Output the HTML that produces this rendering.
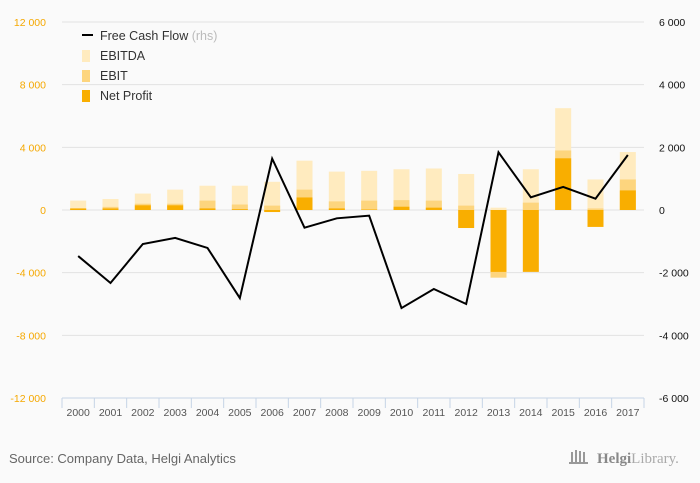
<!DOCTYPE html>
<html><head><meta charset="utf-8">
<style>
html,body{margin:0;padding:0;background:#fafafa;}
svg{display:block;font-family:"Liberation Sans",sans-serif;}
</style></head>
<body>
<svg id="chart" width="700" height="483" viewBox="0 0 700 483">
<rect width="700" height="483" fill="#fafafa"/>
<g id="grid"></g>
<g id="bars"></g>
<g id="line"></g>
<g id="axes"></g>
<g>
  <line x1="82" y1="35" x2="93" y2="35" stroke="#000" stroke-width="2"/>
  <text x="100" y="40" font-size="12.5" fill="#333">Free Cash Flow <tspan fill="#bbb">(rhs)</tspan></text>
  <rect x="82" y="50" width="8" height="12" fill="#ffebbf"/>
  <text x="100" y="60" font-size="12.5" fill="#333">EBITDA</text>
  <rect x="82" y="70" width="8" height="12" fill="#fdd57e"/>
  <text x="100" y="80" font-size="12.5" fill="#333">EBIT</text>
  <rect x="82" y="90" width="8" height="12" fill="#f9ae00"/>
  <text x="100" y="100" font-size="12.5" fill="#333">Net Profit</text>
</g>
<text x="9" y="463" font-size="13" fill="#666">Source: Company Data, Helgi Analytics</text>
<g>
  <g fill="#999"><rect x="571" y="452" width="2" height="10"/><rect x="575" y="450" width="2" height="12"/><rect x="579" y="451" width="2" height="11"/><rect x="583" y="452" width="2" height="10"/><rect x="569" y="462" width="19" height="2"/></g>
  <text x="597" y="463" font-size="15" fill="#888" font-family="Liberation Serif,serif"><tspan font-weight="bold">Helgi</tspan><tspan fill="#aaa">Library.</tspan></text>
</g>
</svg>
<script>
const years=["2000","2001","2002","2003","2004","2005","2006","2007","2008","2009","2010","2011","2012","2013","2014","2015","2016","2017"];
const ebitda=[600,700,1050,1300,1550,1550,1800,3150,2450,2500,2600,2650,2300,150,2600,6500,1950,3700];
const ebit=[100,200,400,400,600,350,280,1300,550,600,630,600,280,-4320,470,3800,100,1950];
const netProfit=[100,100,300,300,100,50,-130,800,100,30,210,150,-1150,-3950,-3950,3300,-1080,1250];
const fcf=[-1470,-2330,-1085,-890,-1210,-2810,1640,-565,-265,-180,-3130,-2520,-3000,1840,405,735,360,1755];
const leftTicks=[12000,8000,4000,0,-4000,-8000,-12000];
const rightTicks=[6000,4000,2000,0,-2000,-4000,-6000];
const leftLabels=["12 000","8 000","4 000","0","-4 000","-8 000","-12 000"];
const rightLabels=["6 000","4 000","2 000","0","-2 000","-4 000","-6 000"];

const NS="http://www.w3.org/2000/svg";
const X0=62,X1=644,Y0=22,Y1=398;
const step=(X1-X0)/years.length;
function xc(i){return X0+step*(i+0.5);}
function yL(v){return Y0+(12000-v)/24000*(Y1-Y0);}
function yR(v){return Y0+(6000-v)/12000*(Y1-Y0);}
function mk(tag,attrs,parent){const e=document.createElementNS(NS,tag);for(const k in attrs)e.setAttribute(k,attrs[k]);parent.appendChild(e);return e;}
const grid=document.getElementById('grid'),bars=document.getElementById('bars'),line=document.getElementById('line'),axes=document.getElementById('axes');

leftTicks.forEach((t,i)=>{
  if(i<leftTicks.length-1){const g=mk('line',{x1:X0,x2:X1,y1:yL(t),y2:yL(t),stroke:'#e2e2e2','stroke-width':1},grid);
  
  }
  const tl=mk('text',{x:46,y:yL(t)+4,'font-size':10.5,fill:'#f5a800','text-anchor':'end'},axes);
  tl.textContent=leftLabels[i];
  
  
});
rightTicks.forEach((t,i)=>{
  const tr=mk('text',{x:659,y:yR(t)+4,'font-size':10.5,fill:'#111'},axes);
  tr.textContent=rightLabels[i];
  
  
});
const ax=mk('line',{x1:X0,x2:X1,y1:Y1,y2:Y1,stroke:'#c6d4e6','stroke-width':1},axes);


for(let i=0;i<=years.length;i++){
  const tk=mk('line',{x1:X0+step*i,x2:X0+step*i,y1:Y1,y2:Y1+10,stroke:'#c6d4e6'},axes);
  
  
}
const bw=16;
years.forEach((y,i)=>{
  const x=xc(i)-bw/2;
  [[ebitda[i],'#ffebbf','bar-ebitda'],[ebit[i],'#fdd57e','bar-ebit'],[netProfit[i],'#f9ae00','bar-net-profit']].forEach(([v,c,n])=>{
    const y0=yL(0),yv=yL(v);
    const r=mk('rect',{x:x,y:Math.min(y0,yv),width:bw,height:Math.abs(yv-y0),fill:c},bars);
    
    
  });
  const lb=mk('text',{x:xc(i),y:416,'font-size':10.5,fill:'#555','text-anchor':'middle'},axes);
  lb.textContent=y;
  
  
});
const pts=fcf.map((v,i)=>xc(i)+','+yR(v)).join(' ');
const pl=mk('polyline',{points:pts,fill:'none',stroke:'#000','stroke-width':2,'stroke-linejoin':'miter'},line);


</script>
</body></html>
